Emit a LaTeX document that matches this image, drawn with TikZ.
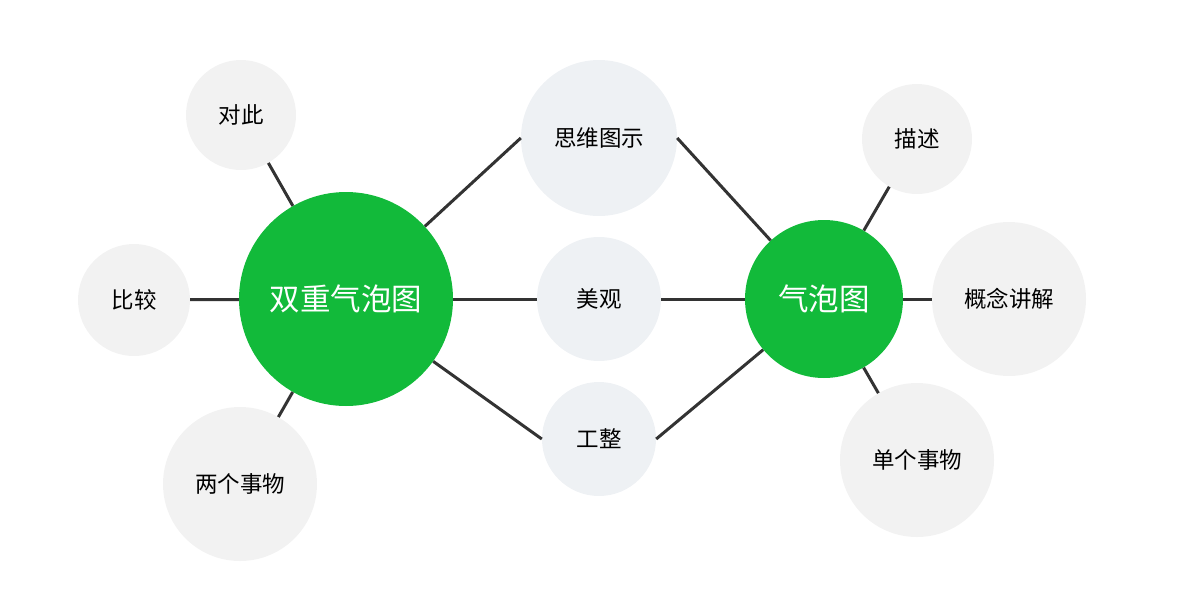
\documentclass[tikz,border=0pt]{standalone}
\usepackage{fontspec}
\setmainfont{Noto Sans CJK SC}
\definecolor{bgreen}{HTML}{12BA3A}
\definecolor{bgrey}{HTML}{F2F2F2}
\definecolor{bblue}{HTML}{EEF1F4}
\definecolor{lnk}{HTML}{333333}
\begin{document}
\begin{tikzpicture}[x=1pt,y=-1pt,
  main/.style={circle,fill=bgreen,text=white,inner sep=0pt,font=\fontsize{30.5}{34}\selectfont},
  side/.style={circle,fill=bgrey,text=black,inner sep=0pt,font=\fontsize{22.5}{26}\selectfont},
  mid/.style={circle,fill=bblue,text=black,inner sep=0pt,font=\fontsize{22.5}{26}\selectfont},
  link/.style={draw=lnk,line width=3pt}]
\useasboundingbox (0,0) rectangle (1200,600);
\node[main,minimum size=214pt] (dbl) at (346,299) {双重气泡图};
\node[main,minimum size=158pt] (bub) at (824,299) {气泡图};
\node[side,minimum size=110pt] (duici) at (241,115) {对此};
\node[side,minimum size=112pt] (bijiao) at (134,300) {比较};
\node[side,minimum size=154pt] (liang) at (240,484) {两个事物};
\node[mid,minimum size=156pt] (siwei) at (599,138) {思维图示};
\node[mid,minimum size=124pt] (meiguan) at (599,299) {美观};
\node[mid,minimum size=114pt] (gongzheng) at (599,439) {工整};
\node[side,minimum size=110pt] (miaoshu) at (917,139) {描述};
\node[side,minimum size=154pt] (gainian) at (1009,299) {概念讲解};
\node[side,minimum size=154pt] (dange) at (917,460) {单个事物};
\draw[link] (duici) -- (dbl);
\draw[link] (bijiao) -- (dbl);
\draw[link] (liang) -- (dbl);
\draw[link] (dbl) -- (siwei.west);
\draw[link] (dbl) -- (meiguan);
\draw[link] (dbl) -- (gongzheng.west);
\draw[link] (siwei.east) -- (bub);
\draw[link] (meiguan) -- (bub);
\draw[link] (gongzheng.east) -- (bub);
\draw[link] (bub) -- (miaoshu);
\draw[link] (bub) -- (gainian);
\draw[link] (bub) -- (dange);
\end{tikzpicture}
\end{document}
